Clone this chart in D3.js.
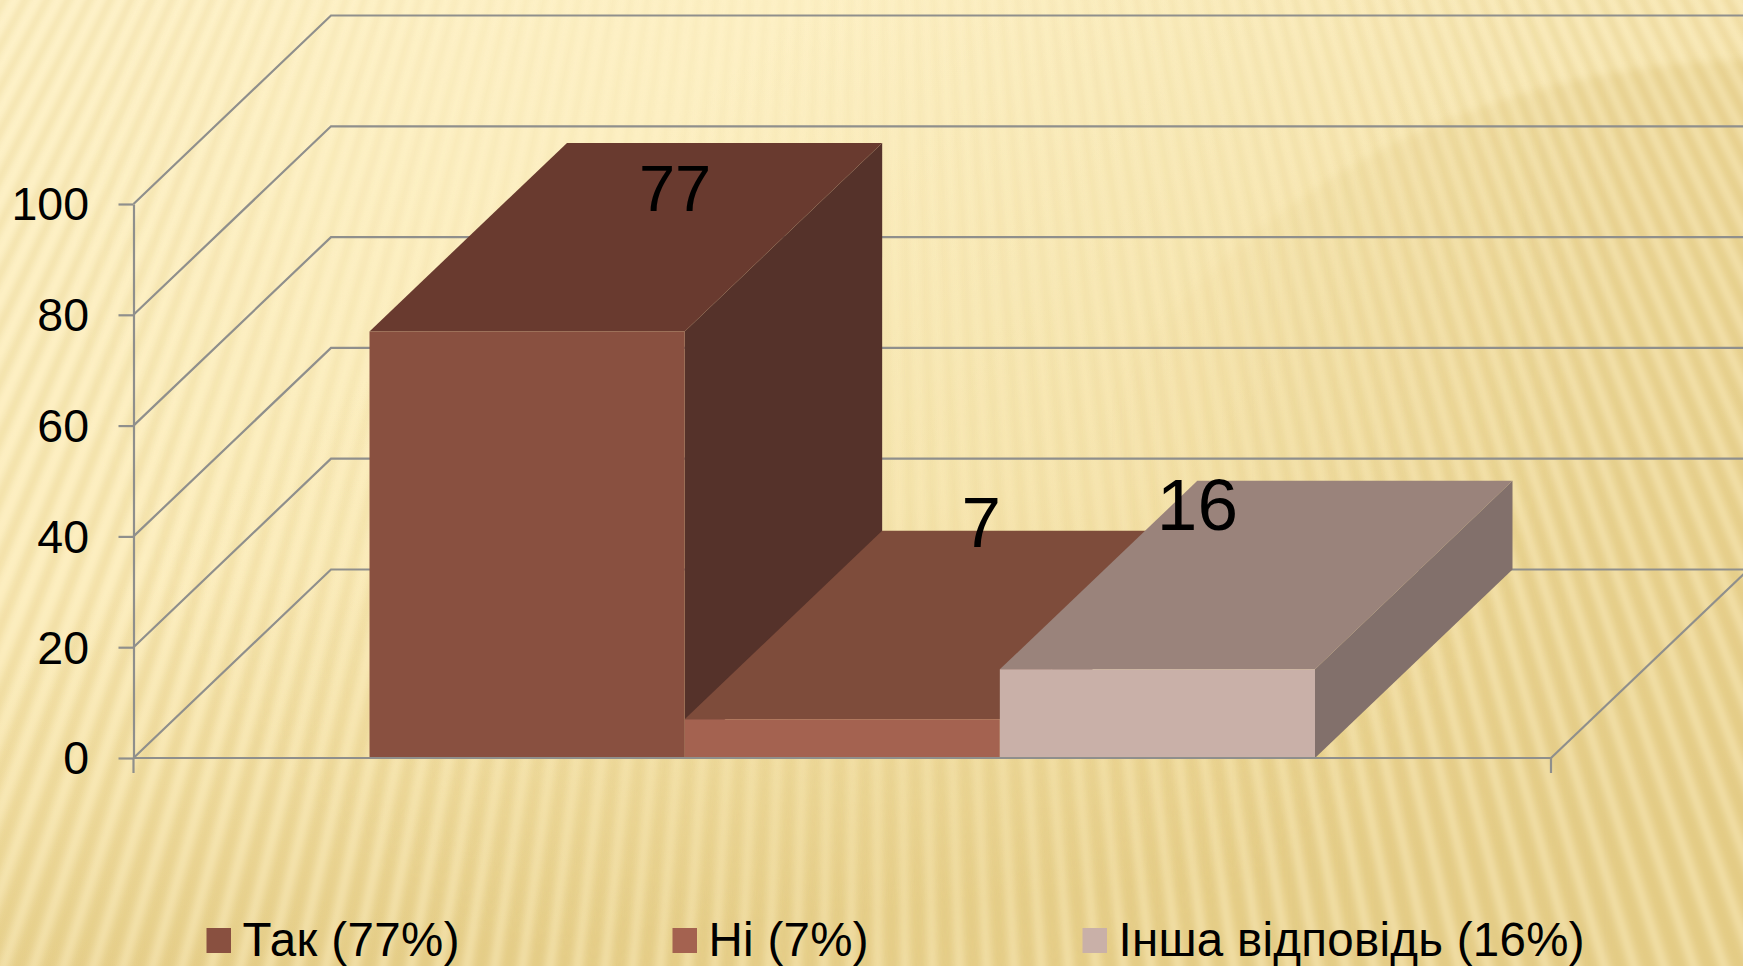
<!DOCTYPE html>
<html><head><meta charset="utf-8">
<script src="https://cdn.jsdelivr.net/npm/d3@7"></script>
<style>html,body{margin:0;padding:0;background:#f3e3ab;overflow:hidden}svg{display:block}text{font-family:"Liberation Sans",Arial,sans-serif;fill:#000}</style>
</head><body><svg id="c" width="1743" height="966"></svg>
<script>
const series = ["Так (77%)", "Ні (7%)", "Інша відповідь (16%)"];
const values = [77, 7, 16];
const yTicks = [0, 20, 40, 60, 80, 100];
const frontColors = ["#895040", "#A46250", "#C9B0A8"];
const topColors = ["#693A2F", "#7E4C3B", "#9A837B"];
const sideColors = ["#55322A", "#6A3F32", "#82706B"];
const labelSizes = [65, 71, 73];
const labelShift = [[148, -120], [139, -172.5], [40, -139]];
const legendSwatchX = [206.5, 672.5, 1082.5];
const legendWidths = [217, 160, 466];

const W = 1743, H = 966;
const left = 133.5, right = 1551, depthX = 197.5, depthY = 188.5, gap = 236;
const svg = d3.select("#c");
const defs = svg.append("defs");

const y = d3.scaleLinear().domain([0, 100]).range([758, 204]);
const x = d3.scaleBand().domain(series).range([left + gap, right - gap]);

// --- background ---
const bg = defs.append("linearGradient").attr("id", "bg").attr("x1", 0).attr("y1", 0).attr("x2", 0.18).attr("y2", 1);
[[0, "#FEF2C7"], [0.6, "#FBECBA"], [0.8, "#F4E2A8"], [1, "#E8D28F"]].forEach(s => bg.append("stop").attr("offset", s[0]).attr("stop-color", s[1]));
svg.append("rect").attr("width", W).attr("height", H).attr("fill", "url(#bg)");
const tr = defs.append("linearGradient").attr("id", "tr").attr("x1", 0.4).attr("y1", 0.1).attr("x2", 1).attr("y2", 0.5);
tr.append("stop").attr("offset", 0).attr("stop-color", "#E8D08A").attr("stop-opacity", 0);
tr.append("stop").attr("offset", 1).attr("stop-color", "#E8D08A").attr("stop-opacity", 0.55);
svg.append("rect").attr("width", W).attr("height", H).attr("fill", "url(#tr)");
const fade = defs.append("linearGradient").attr("id", "fade").attr("x1", 0).attr("y1", 0).attr("x2", 1).attr("y2", 0);
fade.append("stop").attr("offset", 0.05).attr("stop-color", "#E6CF8B").attr("stop-opacity", 0);
fade.append("stop").attr("offset", 0.4).attr("stop-color", "#E6CF8B").attr("stop-opacity", 0.6);
defs.append("filter").attr("id", "b1").append("feGaussianBlur").attr("stdDeviation", 4);
defs.append("filter").attr("id", "b2").append("feGaussianBlur").attr("stdDeviation", 3.2);
svg.append("ellipse").attr("cx", 1760).attr("cy", 660).attr("rx", 720).attr("ry", 600).attr("fill", "url(#fade)").attr("filter", "url(#b1)");

// soft mask: stripes are faint around the upper middle of the page
const mg = defs.append("radialGradient").attr("id", "mg").attr("gradientUnits", "userSpaceOnUse")
  .attr("cx", 830).attr("cy", 260).attr("r", 760);
[[0, "#555"], [0.55, "#777"], [1, "#fff"]].forEach(s => mg.append("stop").attr("offset", s[0]).attr("stop-color", s[1]));
defs.append("mask").attr("id", "fm").attr("maskUnits", "userSpaceOnUse").attr("x", 0).attr("y", 0).attr("width", W).attr("height", H)
  .append("rect").attr("width", W).attr("height", H).attr("fill", "url(#mg)");

// fan of soft stripes from a focus above the page
const fx = 870, fy = -1550, step = 0.0108;
const stripes = svg.append("g").attr("mask", "url(#fm)").append("g").attr("filter", "url(#b2)");
const R = 3400;
for (let a = -0.62; a < 0.62; a += step) {
  const p = (t) => [fx + R * Math.sin(t), fy + R * Math.cos(t)];
  stripes.append("path")
    .attr("d", d3.line()([[fx, fy], p(a), p(a + step * 0.42)]) + "Z")
    .attr("fill", "#DCC377").attr("fill-opacity", 0.26);
  stripes.append("path")
    .attr("d", d3.line()([[fx, fy], p(a + step * 0.55), p(a + step * 0.85)]) + "Z")
    .attr("fill", "#FFF4CC").attr("fill-opacity", 0.42);
}

// --- walls ---
const gridColor = "#8F8F8C", gw = 2.2;
const walls = svg.append("g").attr("fill", "none").attr("stroke", gridColor).attr("stroke-width", gw);
yTicks.forEach(t => {
  walls.append("path").attr("d", d3.line()([[left, y(t)], [left + depthX, y(t) - depthY], [W + 5, y(t) - depthY]]));
});
walls.append("path").attr("d", d3.line()([[right, y(0)], [right + depthX, y(0) - depthY]]));

// --- bars ---
const poly = (g, pts, c) => g.append("polygon").attr("points", pts.map(p => p.join(",")).join(" ")).attr("fill", c);
const bars = svg.append("g");
series.forEach((s, i) => {
  const x0 = x(s), x1 = x0 + x.bandwidth(), yt = y(values[i]), yb = y(0);
  const g = bars.append("g");
  poly(g, [[x1, yt], [x1 + depthX, yt - depthY], [x1 + depthX, yb - depthY], [x1, yb]], sideColors[i]);
  poly(g, [[x0, yt], [x1, yt], [x1 + depthX, yt - depthY], [x0 + depthX, yt - depthY]], topColors[i]);
  poly(g, [[x0, yt], [x1, yt], [x1, yb], [x0, yb]], frontColors[i]);
});

// --- axes ---
const axis = svg.append("g").attr("transform", `translate(${left},0)`)
  .call(d3.axisLeft(y).tickValues(yTicks).tickSize(15).tickPadding(29.5).tickSizeOuter(0));
axis.selectAll("line,path").attr("stroke", gridColor).attr("stroke-width", gw);
axis.selectAll("text").attr("font-size", 46.5).attr("font-family", '"Liberation Sans",Arial,sans-serif').attr("fill", "#000").attr("transform", "translate(0,1)");
const base = svg.append("g").attr("stroke", gridColor).attr("stroke-width", gw);
base.append("line").attr("x1", left).attr("x2", right).attr("y1", y(0)).attr("y2", y(0));
[left, right].forEach(v => base.append("line").attr("x1", v).attr("x2", v).attr("y1", y(0)).attr("y2", y(0) + 15));

// --- data labels ---
series.forEach((s, i) => {
  svg.append("text").text(values[i])
    .attr("x", x(s) + x.bandwidth() / 2 + labelShift[i][0])
    .attr("y", y(values[i]) + labelShift[i][1])
    .attr("text-anchor", "middle").attr("font-size", labelSizes[i]);
});

// --- legend ---
series.forEach((s, i) => {
  svg.append("rect").attr("x", legendSwatchX[i]).attr("y", 928).attr("width", 24.5).attr("height", 25).attr("fill", frontColors[i]);
  svg.append("text").text(s).attr("x", legendSwatchX[i] + 36).attr("y", 956).attr("font-size", 47.5)
    .attr("textLength", legendWidths[i]).attr("lengthAdjust", "spacing");
});
</script></body></html>
